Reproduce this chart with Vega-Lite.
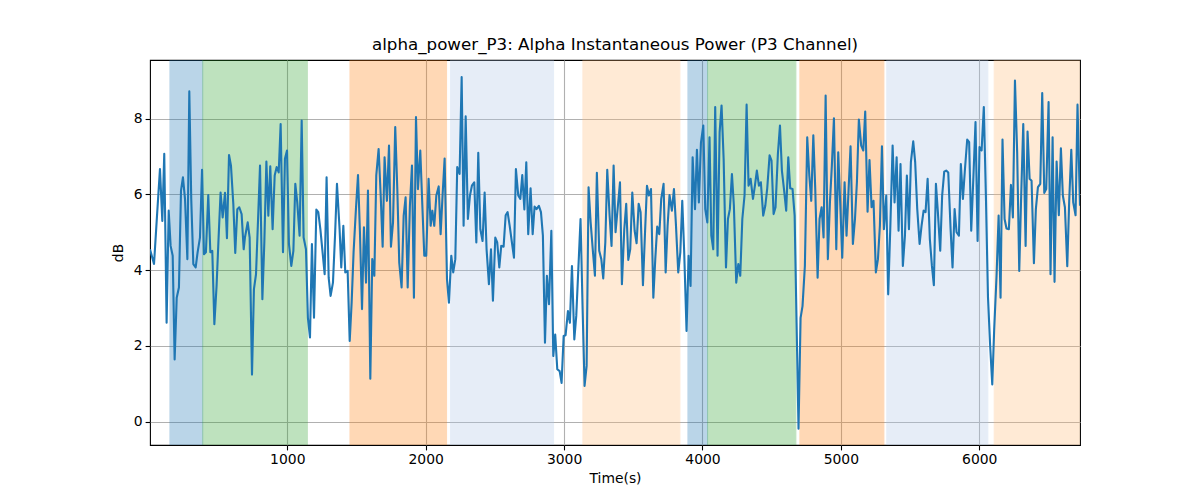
{
  "$schema": "https://vega.github.io/schema/vega-lite/v6.json",
  "width": 930,
  "height": 385,
  "autosize": {"type": "none"},
  "padding": {"left": 150, "top": 60, "right": 120, "bottom": 55},
  "background": "white",
  "config": {
    "font": "DejaVu Sans",
    "view": {"stroke": "black", "strokeWidth": 1.1},
    "axis": {
      "labelFont": "DejaVu Sans", "titleFont": "DejaVu Sans",
      "labelFontSize": 13.9, "titleFontSize": 13.9, "titleFontWeight": "normal",
      "labelColor": "black", "titleColor": "black",
      "tickColor": "black", "tickSize": 4.9, "tickWidth": 1.1,
      "domain": false,
      "gridColor": "#b0b0b0", "gridWidth": 1.1, "gridOpacity": 1
    }
  },
  "title": {
    "text": "alpha_power_P3: Alpha Instantaneous Power (P3 Channel)",
    "font": "DejaVu Sans", "fontSize": 16.7, "fontWeight": "normal", "color": "black",
    "anchor": "middle", "offset": 6
  },
  "datasets": {
    "spans": [
      {"x0": 152, "x1": 389, "kind": "A"},
      {"x0": 389, "x1": 1145, "kind": "B"},
      {"x0": 1453, "x1": 2151, "kind": "C"},
      {"x0": 2180, "x1": 2924, "kind": "D"},
      {"x0": 3136, "x1": 3837, "kind": "E"},
      {"x0": 3895, "x1": 4037, "kind": "A"},
      {"x0": 4037, "x1": 4675, "kind": "B"},
      {"x0": 4704, "x1": 5311, "kind": "C"},
      {"x0": 5332, "x1": 6062, "kind": "D"},
      {"x0": 6108, "x1": 6728, "kind": "E"}
    ],
    "sig": [
      {"t":8,"v":4.55},{"t":37,"v":4.16},{"t":58,"v":5.4},{"t":80,"v":6.67},{"t":97,"v":5.30},{"t":111,"v":7.07},{"t":128,"v":2.61},{"t":143,"v":5.57},{"t":157,"v":4.64},{"t":172,"v":4.38},{"t":186,"v":1.64},{"t":201,"v":3.27},{"t":217,"v":3.54},{"t":232,"v":6.10},{"t":246,"v":6.45},{"t":261,"v":5.88},{"t":278,"v":4.29},{"t":292,"v":8.72},{"t":306,"v":5.88},{"t":321,"v":4.16},{"t":338,"v":4.07},{"t":352,"v":4.47},{"t":369,"v":4.86},{"t":384,"v":6.65},{"t":398,"v":4.42},{"t":412,"v":4.47},{"t":429,"v":5.98},{"t":444,"v":4.47},{"t":458,"v":4.51},{"t":473,"v":2.57},{"t":489,"v":3.58},{"t":503,"v":4.8},{"t":518,"v":6.05},{"t":533,"v":5.39},{"t":550,"v":6.04},{"t":564,"v":4.84},{"t":579,"v":7.04},{"t":593,"v":6.76},{"t":610,"v":5.75},{"t":624,"v":4.45},{"t":639,"v":5.61},{"t":653,"v":5.66},{"t":670,"v":5.48},{"t":685,"v":4.55},
      {"t":694,"v":4.86},{"t":714,"v":5.26},{"t":728,"v":4.86},{"t":745,"v":1.24},{"t":759,"v":3.50},{"t":774,"v":3.89},{"t":788,"v":5.26},{"t":803,"v":6.76},{"t":820,"v":3.23},{"t":834,"v":4.72},{"t":849,"v":6.87},{"t":863,"v":5.44},{"t":877,"v":6.74},{"t":894,"v":5.08},{"t":909,"v":6.50},{"t":923,"v":6.72},{"t":938,"v":6.58},{"t":952,"v":7.86},{"t":969,"v":4.47},{"t":983,"v":6.94},{"t":998,"v":7.16},{"t":1012,"v":4.69},{"t":1029,"v":4.11},{"t":1044,"v":4.51},{"t":1058,"v":6.28},{"t":1072,"v":5.79},{"t":1089,"v":4.91},{"t":1104,"v":7.95},{"t":1118,"v":4.86},{"t":1135,"v":4.55},{"t":1149,"v":2.74},{"t":1164,"v":2.22},{"t":1178,"v":4.69},{"t":1193,"v":2.74},{"t":1210,"v":5.60},{"t":1224,"v":5.53},{"t":1239,"v":5.08},{"t":1253,"v":4.55},{"t":1270,"v":3.89},{"t":1284,"v":6.45},{"t":1299,"v":3.80},{"t":1313,"v":3.32},{"t":1330,"v":3.67},{"t":1345,"v":4.91},{"t":1359,"v":6.28},
      {"t":1378,"v":5.08},{"t":1390,"v":4.07},{"t":1405,"v":5.17},{"t":1419,"v":3.94},{"t":1436,"v":3.98},{"t":1451,"v":2.13},{"t":1465,"v":3.14},{"t":1479,"v":4.47},{"t":1496,"v":5.61},{"t":1511,"v":6.51},{"t":1525,"v":5.00},{"t":1540,"v":2.97},{"t":1554,"v":5.13},{"t":1569,"v":3.67},{"t":1583,"v":6.10},{"t":1600,"v":1.13},{"t":1614,"v":4.29},{"t":1629,"v":3.85},{"t":1643,"v":6.50},{"t":1660,"v":7.20},{"t":1675,"v":5.97},{"t":1689,"v":4.62},{"t":1703,"v":6.98},{"t":1720,"v":5.83},{"t":1735,"v":7.29},{"t":1749,"v":4.62},{"t":1764,"v":5.26},{"t":1780,"v":7.78},{"t":1795,"v":6.14},{"t":1809,"v":4.20},{"t":1826,"v":3.54},{"t":1841,"v":5.44},{"t":1855,"v":5.92},{"t":1870,"v":3.54},{"t":1886,"v":5.70},{"t":1901,"v":6.76},{"t":1915,"v":3.27},{"t":1930,"v":8.04},{"t":1944,"v":6.14},{"t":1961,"v":7.16},{"t":1975,"v":5.79},{"t":1990,"v":4.38},{"t":2004,"v":4.38},{"t":2021,"v":6.41},{"t":2036,"v":5.17},
      {"t":2048,"v":5.57},{"t":2062,"v":5.17},{"t":2077,"v":5.97},{"t":2094,"v":6.21},{"t":2108,"v":4.95},{"t":2122,"v":5.97},{"t":2137,"v":6.95},{"t":2154,"v":3.76},{"t":2168,"v":3.14},{"t":2185,"v":4.38},{"t":2199,"v":3.94},{"t":2214,"v":4.29},{"t":2228,"v":6.72},{"t":2245,"v":6.54},{"t":2260,"v":9.10},{"t":2274,"v":5.17},{"t":2289,"v":8.06},{"t":2305,"v":5.35},{"t":2320,"v":5.97},{"t":2334,"v":6.23},{"t":2351,"v":6.32},{"t":2366,"v":4.73},{"t":2380,"v":7.10},{"t":2395,"v":5.08},{"t":2411,"v":4.77},{"t":2426,"v":6.05},{"t":2440,"v":4.55},{"t":2457,"v":3.63},{"t":2472,"v":4.55},{"t":2486,"v":3.19},{"t":2503,"v":4.86},{"t":2517,"v":4.73},{"t":2532,"v":4.07},{"t":2546,"v":4.64},{"t":2563,"v":4.62},{"t":2578,"v":5.45},{"t":2592,"v":5.53},{"t":2607,"v":5.17},{"t":2623,"v":4.73},{"t":2638,"v":4.33},{"t":2652,"v":6.67},{"t":2669,"v":5.97},{"t":2684,"v":5.88},{"t":2698,"v":6.51},
      {"t":2713,"v":5.6},{"t":2727,"v":6.85},{"t":2741,"v":4.95},{"t":2758,"v":6.16},{"t":2773,"v":4.95},{"t":2787,"v":5.68},{"t":2801,"v":5.61},{"t":2818,"v":5.70},{"t":2833,"v":5.53},{"t":2847,"v":4.91},{"t":2862,"v":2.08},{"t":2876,"v":3.85},{"t":2891,"v":3.10},{"t":2908,"v":5.04},{"t":2922,"v":1.73},{"t":2936,"v":2.30},{"t":2951,"v":1.38},{"t":2968,"v":1.33},{"t":2982,"v":1.02},{"t":2997,"v":2.26},{"t":3011,"v":2.28},{"t":3028,"v":2.92},{"t":3042,"v":2.61},{"t":3057,"v":4.11},{"t":3074,"v":2.17},{"t":3088,"v":2.79},{"t":3103,"v":4.02},{"t":3119,"v":5.35},{"t":3134,"v":2.97},{"t":3148,"v":0.94},{"t":3163,"v":1.47},{"t":3177,"v":6.19},{"t":3192,"v":5.26},{"t":3209,"v":4.47},{"t":3223,"v":3.85},{"t":3237,"v":6.57},{"t":3254,"v":4.51},{"t":3269,"v":4.29},{"t":3283,"v":3.78},{"t":3298,"v":4.73},{"t":3312,"v":6.65},{"t":3329,"v":5.44},{"t":3343,"v":4.64},{"t":3358,"v":6.76},{"t":3372,"v":5.00},
      {"t":3389,"v":5.7},{"t":3404,"v":6.32},{"t":3418,"v":3.63},{"t":3435,"v":5.08},{"t":3449,"v":5.75},{"t":3464,"v":4.27},{"t":3478,"v":4.55},{"t":3493,"v":6.05},{"t":3510,"v":5.04},{"t":3524,"v":4.71},{"t":3539,"v":5.75},{"t":3553,"v":5.53},{"t":3570,"v":3.60},{"t":3584,"v":4.91},{"t":3599,"v":6.23},{"t":3613,"v":5.97},{"t":3628,"v":6.14},{"t":3645,"v":3.27},{"t":3659,"v":4.29},{"t":3673,"v":5.15},{"t":3688,"v":4.95},{"t":3702,"v":5.88},{"t":3719,"v":6.28},{"t":3734,"v":3.94},{"t":3748,"v":5.17},{"t":3762,"v":5.98},{"t":3779,"v":5.57},{"t":3794,"v":6.14},{"t":3808,"v":5.22},{"t":3825,"v":3.94},{"t":3840,"v":4.47},{"t":3854,"v":5.83},{"t":3868,"v":4.47},{"t":3885,"v":2.39},{"t":3900,"v":4.38},{"t":3914,"v":3.58},{"t":3929,"v":6.98},{"t":3946,"v":5.61},{"t":3960,"v":7.18},{"t":3974,"v":5.79},{"t":3989,"v":7.36},{"t":4006,"v":7.82},{"t":4020,"v":5.61},{"t":4035,"v":5.26},{"t":4051,"v":7.51},
      {"t":4064,"v":4.91},{"t":4078,"v":4.55},{"t":4092,"v":8.31},{"t":4109,"v":4.38},{"t":4124,"v":7.64},{"t":4138,"v":8.35},{"t":4153,"v":6.94},{"t":4170,"v":4.07},{"t":4184,"v":5.35},{"t":4198,"v":5.61},{"t":4213,"v":6.54},{"t":4227,"v":5.70},{"t":4244,"v":3.67},{"t":4259,"v":4.16},{"t":4273,"v":3.85},{"t":4288,"v":5.35},{"t":4304,"v":5.97},{"t":4319,"v":8.37},{"t":4333,"v":6.23},{"t":4348,"v":6.41},{"t":4365,"v":5.88},{"t":4379,"v":6.23},{"t":4393,"v":6.63},{"t":4408,"v":6.23},{"t":4422,"v":6.32},{"t":4439,"v":5.44},{"t":4454,"v":5.70},{"t":4468,"v":6.16},{"t":4485,"v":7.03},{"t":4499,"v":6.89},{"t":4514,"v":5.48},{"t":4528,"v":5.66},{"t":4545,"v":7.07},{"t":4560,"v":7.82},{"t":4574,"v":6.63},{"t":4589,"v":6.14},{"t":4605,"v":5.57},{"t":4620,"v":6.98},{"t":4634,"v":6.16},{"t":4651,"v":6.14},{"t":4666,"v":5.44},{"t":4680,"v":2.61},{"t":4694,"v":-0.19},{"t":4709,"v":2.74},{"t":4723,"v":3.05},
      {"t":4740,"v":4.11},{"t":4757,"v":7.51},{"t":4772,"v":6.50},{"t":4786,"v":5.83},{"t":4801,"v":7.56},{"t":4815,"v":6.14},{"t":4832,"v":3.80},{"t":4846,"v":5.35},{"t":4861,"v":5.66},{"t":4875,"v":4.86},{"t":4890,"v":8.61},{"t":4906,"v":4.29},{"t":4921,"v":5.79},{"t":4935,"v":6.76},{"t":4950,"v":8.01},{"t":4967,"v":4.55},{"t":4981,"v":7.11},{"t":4996,"v":5.70},{"t":5010,"v":4.33},{"t":5027,"v":6.32},{"t":5041,"v":4.91},{"t":5056,"v":6.14},{"t":5070,"v":7.27},{"t":5087,"v":4.69},{"t":5102,"v":5.35},{"t":5116,"v":6.32},{"t":5130,"v":7.98},{"t":5147,"v":7.29},{"t":5162,"v":7.16},{"t":5176,"v":8.19},{"t":5193,"v":5.54},{"t":5207,"v":6.91},{"t":5222,"v":5.66},{"t":5236,"v":5.83},{"t":5253,"v":3.94},{"t":5268,"v":4.29},{"t":5282,"v":5.17},{"t":5297,"v":7.27},{"t":5311,"v":5.08},{"t":5328,"v":5.97},{"t":5342,"v":3.36},{"t":5357,"v":5.08},{"t":5374,"v":7.29},{"t":5388,"v":5.79},
      {"t":5403,"v":6.98},{"t":5417,"v":5.04},{"t":5431,"v":6.80},{"t":5448,"v":4.11},{"t":5463,"v":4.91},{"t":5477,"v":6.50},{"t":5492,"v":5.08},{"t":5506,"v":6.85},{"t":5523,"v":7.40},{"t":5537,"v":6.85},{"t":5552,"v":5.61},{"t":5569,"v":4.69},{"t":5583,"v":5.17},{"t":5598,"v":5.57},{"t":5612,"v":5.53},{"t":5627,"v":6.41},{"t":5643,"v":4.82},{"t":5658,"v":4.11},{"t":5672,"v":3.60},{"t":5687,"v":6.28},{"t":5701,"v":5.53},{"t":5718,"v":4.51},{"t":5732,"v":5.97},{"t":5747,"v":6.60},{"t":5761,"v":6.63},{"t":5776,"v":6.58},{"t":5793,"v":5.08},{"t":5807,"v":4.07},{"t":5822,"v":5.61},{"t":5836,"v":5.00},{"t":5853,"v":4.91},{"t":5867,"v":6.80},{"t":5882,"v":5.88},{"t":5896,"v":6.63},{"t":5913,"v":7.45},{"t":5927,"v":7.38},{"t":5942,"v":5.04},{"t":5959,"v":6.58},{"t":5973,"v":7.91},{"t":5988,"v":4.77},{"t":6002,"v":7.25},{"t":6017,"v":7.16},{"t":6033,"v":8.31},{"t":6048,"v":5.97},
      {"t":6063,"v":3.3},{"t":6079,"v":1.99},{"t":6094,"v":0.98},{"t":6108,"v":2.44},{"t":6125,"v":3.85},{"t":6140,"v":5.44},{"t":6154,"v":3.27},{"t":6168,"v":7.45},{"t":6183,"v":5.35},{"t":6197,"v":5.10},{"t":6214,"v":5.08},{"t":6229,"v":6.25},{"t":6243,"v":5.39},{"t":6258,"v":9.01},{"t":6274,"v":7.11},{"t":6289,"v":3.98},{"t":6303,"v":5.97},{"t":6318,"v":7.86},{"t":6335,"v":4.64},{"t":6349,"v":7.66},{"t":6364,"v":6.41},{"t":6378,"v":6.36},{"t":6395,"v":4.18},{"t":6409,"v":5.61},{"t":6424,"v":6.19},{"t":6441,"v":6.28},{"t":6455,"v":8.68},{"t":6470,"v":6.04},{"t":6484,"v":6.14},{"t":6501,"v":8.44},{"t":6515,"v":3.89},{"t":6530,"v":7.51},{"t":6544,"v":3.69},{"t":6559,"v":6.87},{"t":6575,"v":5.45},{"t":6590,"v":7.22},{"t":6604,"v":5.97},{"t":6619,"v":5.66},{"t":6636,"v":4.10},{"t":6650,"v":5.83},{"t":6665,"v":7.18},{"t":6679,"v":5.79},{"t":6696,"v":5.45},{"t":6710,"v":8.37},{"t":6728,"v":5.70}
    ]
  },
  "layer": [
    {
      "data": {"name": "spans"},
      "mark": {"type": "rect", "opacity": 0.3, "strokeWidth": 1, "clip": true},
      "encoding": {
        "x": {"field": "x0", "type": "quantitative",
              "scale": {"domain": [8, 6728], "nice": false, "zero": false},
              "axis": {"values": [1000, 2000, 3000, 4000, 5000, 6000], "format": "d", "title": "Time(s)", "labelPadding": 3, "titlePadding": 5, "grid": true}},
        "x2": {"field": "x1"},
        "fill": {"field": "kind", "type": "nominal", "legend": null,
                  "scale": {"domain": ["A", "B", "C", "D", "E"], "range": ["#1f77b4", "#2ca02c", "#ff7f0e", "#aec7e8", "#ffbb78"]}},
        "stroke": {"field": "kind", "type": "nominal", "legend": null,
                  "scale": {"domain": ["A", "B", "C", "D", "E"], "range": ["#1f77b4", "#2ca02c", "#ff7f0e", "#aec7e8", "#ffbb78"]}}
      }
    },
    {
      "data": {"name": "sig"},
      "mark": {"type": "line", "color": "#1f77b4", "strokeWidth": 2.1, "clip": true, "strokeJoin": "round"},
      "encoding": {
        "x": {"field": "t", "type": "quantitative"},
        "y": {"field": "v", "type": "quantitative",
              "scale": {"domain": [-0.62, 9.55], "nice": false, "zero": false},
              "axis": {"values": [0, 2, 4, 6, 8], "title": "dB", "labelPadding": 3, "titlePadding": 8, "grid": true}}
      }
    }
  ]
}
